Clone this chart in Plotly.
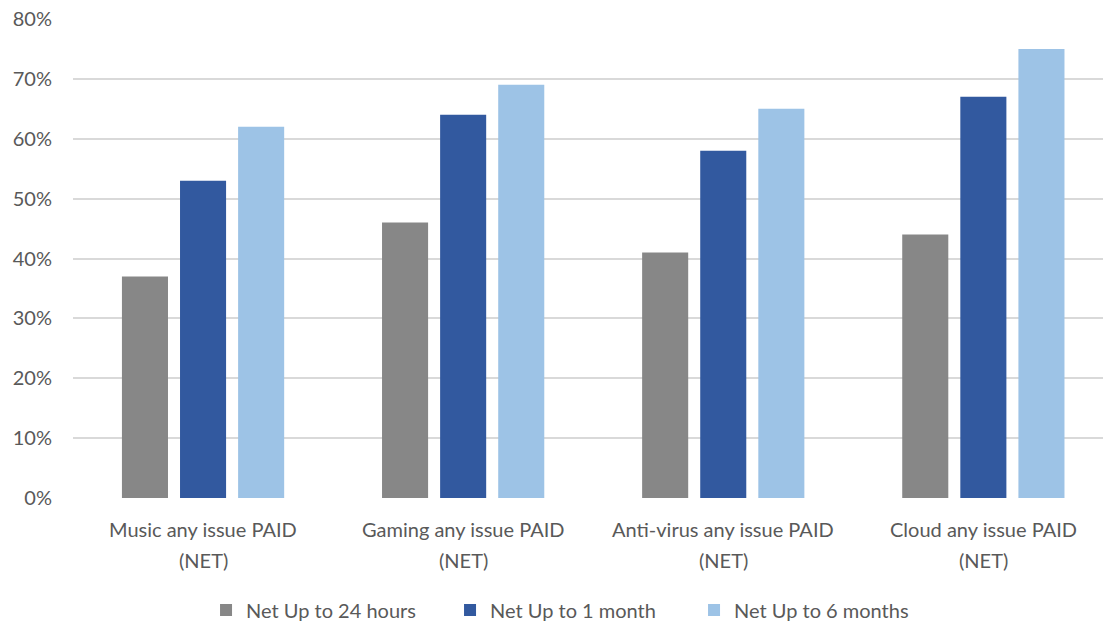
import plotly.graph_objects as go

# Categories and series values (share of respondents)
categories = [
    "Music any issue PAID",
    "Gaming any issue PAID",
    "Anti-virus any issue PAID",
    "Cloud any issue PAID",
]
category_suffix = "(NET)"
series_names = ["Net Up to 24 hours", "Net Up to 1 month", "Net Up to 6 months"]
up_to_24_hours = [0.37, 0.46, 0.41, 0.44]
up_to_1_month = [0.53, 0.64, 0.58, 0.67]
up_to_6_months = [0.62, 0.69, 0.65, 0.75]
y_ticks = [0.0, 0.1, 0.2, 0.3, 0.4, 0.5, 0.6, 0.7, 0.8]

colors = ["#878787", "#32599f", "#9dc3e6"]
text_color = "#595959"
font_family = "Lato, 'Open Sans', sans-serif"
font_size = 20

fig = go.Figure()
for name, vals, col in zip(series_names,
                           [up_to_24_hours, up_to_1_month, up_to_6_months],
                           colors):
    fig.add_trace(go.Bar(
        x=categories, y=vals, name=name,
        marker=dict(color=col, line=dict(width=0)),
    ))

# Two-line category labels under each group
for cat in categories:
    fig.add_annotation(x=cat, xref="x", y=0, yref="paper", yanchor="middle",
                       yshift=-31, text=cat, showarrow=False,
                       font=dict(size=font_size, color=text_color, family=font_family))
    fig.add_annotation(x=cat, xref="x", y=0, yref="paper", yanchor="middle",
                       yshift=-62, text=category_suffix, showarrow=False,
                       font=dict(size=font_size, color=text_color, family=font_family))

fig.update_layout(
    width=1103, height=625, autosize=False,
    margin=dict(l=73, r=0, t=19, b=127, autoexpand=False),
    paper_bgcolor="white", plot_bgcolor="white",
    barmode="group", bargap=0.33, bargroupgap=0.207,
    font=dict(family=font_family, size=font_size, color=text_color),
    showlegend=True,
    legend=dict(orientation="h", x=0.4845, xanchor="center",
                y=-0.234, yanchor="middle",
                font=dict(size=font_size, color=text_color),
                itemclick=False, traceorder="normal",
                entrywidthmode="pixels", entrywidth=199),
    xaxis=dict(range=[-0.5, 3.46], showticklabels=False, showgrid=False,
               zeroline=False, showline=False, fixedrange=True),
    yaxis=dict(range=[0, 0.8], tickvals=y_ticks, tickformat=".0%",
               showgrid=True, gridcolor="#d9d9d9", gridwidth=1.5,
               zeroline=False, showline=False, ticklabelstandoff=20,
               tickfont=dict(size=font_size, color=text_color), fixedrange=True),
)

fig.write_html("out.html")
